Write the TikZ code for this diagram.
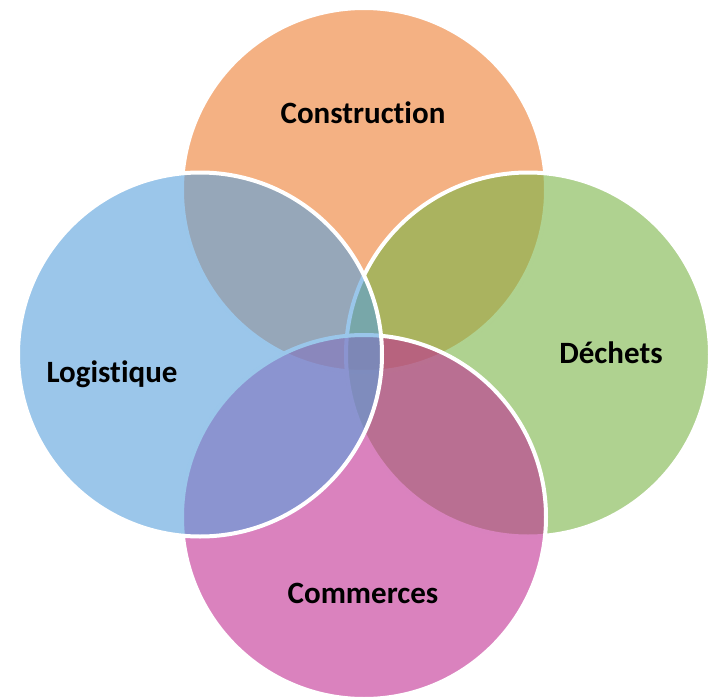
\documentclass[tikz,border=0pt]{standalone}
\usepackage{fontspec}
\setmainfont[Ligatures=CommonOff]{Carlito}
\definecolor{cOrange}{HTML}{ED7D31}
\definecolor{cGreen}{RGB}{122,180,70}
\definecolor{cPink}{RGB}{193,47,147}
\definecolor{cBlue}{RGB}{88,160,220}
\tikzset{
  venn/.style={circle, minimum size=364pt, inner sep=0pt, draw=white, line width=4pt, fill opacity=0.6, draw opacity=1},
  lbl/.style={anchor=base, inner sep=0pt, font=\fontsize{31}{31}\selectfont\bfseries, text=black}
}
\begin{document}
\begin{tikzpicture}[x=1pt,y=-1pt]
\useasboundingbox (0,0) rectangle (713,699);
\node[venn, fill=cOrange] (ctop) at (364,190) {};
\node[venn, fill=cGreen] (cright) at (528,354.5) {};
\node[venn, fill=cPink] (cbottom) at (364,517) {};
\node[venn, fill=cBlue] (cleft) at (200,354.5) {};
\node[lbl] (tconstruction) at (363,123) {Construction};
\node[lbl] (tdechets) at (611,363) {Déchets};
\node[lbl] (tcommerces) at (363,603) {Commerces};
\node[lbl] (tlogistique) at (112,382) {Logistique};
\end{tikzpicture}
\end{document}
